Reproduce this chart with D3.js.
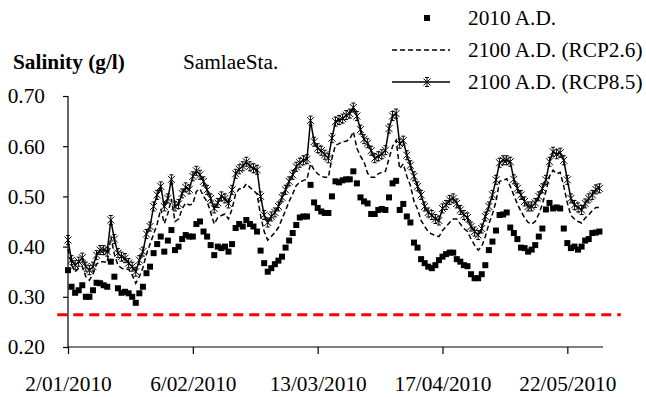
<!DOCTYPE html>
<meta charset="utf-8">
<style>
  body { margin: 0; background: #fff; }
  svg text { font-family: "Times New Roman", "Liberation Serif", Tinos, Times, serif; fill: #000; }
</style>
<body></body>
<script src="https://cdn.jsdelivr.net/npm/d3@7"></script>
<script>
  const width = 646
  const height = 397
  const margin = { top: 96, right: 43, bottom: 50, left: 68 }

  // daily values, 2 Jan 2010 onwards
  const startDate = new Date(2010, 0, 2)
  const endDate = new Date(2010, 5, 1)

  const base2010 = [
    .353, .320, .308, .313, .323, .300, .300, .313, .328, .327,
    .323, .320, .370, .340, .317, .308, .310, .307, .300, .288,
    .307, .320, .347, .360, .387, .405, .420, .390, .412, .433,
    .393, .400, .415, .423, .420, .420, .445, .450, .430, .420,
    .403, .383, .400, .397, .400, .390, .405, .437, .445, .440,
    .453, .445, .440, .430, .392, .367, .350, .357, .365, .372,
    .380, .398, .412, .427, .443, .458, .460, .460, .523, .488,
    .477, .470, .467, .467, .500, .530, .528, .532, .534, .534,
    .550, .526, .498, .490, .486, .465, .465, .473, .475, .473,
    .498, .526, .531, .473, .485, .460, .448, .408, .398, .375,
    .367, .360, .357, .363, .373, .380, .385, .388, .388, .375,
    .370, .363, .361, .345, .337, .337, .345, .363, .393, .410,
    .432, .463, .464, .468, .438, .427, .415, .398, .397, .390,
    .394, .403, .420, .436, .474, .487, .476, .478, .476, .436,
    .407, .397, .400, .394, .400, .412, .415, .427, .428, .430
  ]

  const rcp26 = [
    .395, .363, .350, .357, .361, .340, .333, .345, .365, .370,
    .370, .368, .420, .385, .363, .357, .355, .355, .343, .327,
    .340, .358, .385, .405, .425, .445, .475, .446, .466, .495,
    .450, .455, .475, .487, .483, .485, .510, .515, .500, .490,
    .468, .445, .458, .462, .465, .455, .475, .505, .515, .515,
    .525, .518, .512, .505, .462, .430, .413, .420, .428, .438,
    .455, .472, .490, .505, .522, .528, .532, .534, .565, .553,
    .545, .540, .538, .538, .576, .602, .605, .609, .610, .614,
    .629, .596, .580, .569, .546, .538, .538, .545, .548, .550,
    .575, .600, .612, .555, .565, .540, .522, .490, .475, .452,
    .440, .430, .425, .422, .420, .432, .440, .448, .455, .455,
    .445, .436, .430, .415, .403, .393, .400, .420, .445, .465,
    .490, .530, .532, .535, .520, .502, .485, .470, .458, .448,
    .445, .450, .465, .485, .510, .540, .552, .545, .548, .520,
    .487, .462, .455, .450, .447, .457, .463, .472, .478, .478
  ]

  const rcp85 = [
    .413, .373, .363, .370, .378, .360, .353, .360, .383, .393,
    .393, .390, .453, .415, .387, .380, .377, .367, .360, .350,
    .373, .390, .425, .440, .480, .503, .520, .480, .496, .534,
    .480, .485, .506, .518, .514, .540, .551, .543, .530, .513,
    .496, .476, .487, .500, .496, .486, .513, .545, .554, .560,
    .569, .560, .556, .553, .500, .463, .448, .460, .468, .480,
    .498, .513, .530, .543, .559, .567, .572, .574, .651, .609,
    .596, .591, .583, .576, .616, .649, .652, .655, .662, .665,
    .677, .660, .633, .614, .606, .591, .576, .580, .584, .592,
    .635, .660, .665, .605, .611, .582, .562, .540, .520, .503,
    .480, .468, .463, .455, .452, .476, .483, .493, .496, .486,
    .473, .463, .458, .440, .430, .423, .436, .460, .480, .503,
    .533, .567, .572, .572, .569, .534, .516, .503, .490, .480,
    .480, .487, .500, .516, .533, .569, .589, .584, .587, .572,
    .533, .496, .483, .478, .473, .486, .496, .503, .514, .516
  ]

  const yTicks = [0.2, 0.3, 0.4, 0.5, 0.6, 0.7]
  const xTickDays = [0, 35, 70, 105, 140]
  const threshold = 0.264
  const thresholdSpan = [-3, 155.5] // days, the red line runs past the axes

  const seriesNames = ["2010 A.D.", "2100 A.D. (RCP2.6)", "2100 A.D. (RCP8.5)"]

  const day = i => d3.timeDay.offset(startDate, i)

  const x = d3.scaleTime()
    .domain([startDate, endDate])
    .range([margin.left, width - margin.right])

  const y = d3.scaleLinear()
    .domain([0.2, 0.7])
    .range([height - margin.bottom, margin.top])

  const svg = d3.select("body").append("svg")
    .attr("width", width)
    .attr("height", height)

  const starPath = "M-3.5,-3.5L3.5,3.5M-3.5,3.5L3.5,-3.5M0,-4.5L0,4.5M-2,-4.5L2,-4.5M-2,4.5L2,4.5"

  // threshold
  svg.append("line")
    .attr("x1", x(day(thresholdSpan[0])))
    .attr("x2", x(day(thresholdSpan[1])))
    .attr("y1", y(threshold))
    .attr("y2", y(threshold))
    .attr("stroke", "#ff0000")
    .attr("stroke-width", 3)
    .attr("stroke-dasharray", "10,6")

  // axes
  const yAxis = d3.axisLeft(y)
    .tickValues(yTicks)
    .tickFormat(d3.format(".2f"))
    .tickSize(5)
    .tickPadding(18)

  const xAxis = d3.axisBottom(x)
    .tickValues(xTickDays.map(day))
    .tickFormat(d3.timeFormat("%-d/%m/%Y"))
    .tickSize(7)
    .tickPadding(22)

  svg.append("g")
    .attr("transform", `translate(${margin.left},0)`)
    .call(yAxis)
    .call(g => g.select(".domain").attr("d", `M0,${y(0.7)}V${y(0.2)}`))

  svg.append("g")
    .attr("transform", `translate(0,${height - margin.bottom})`)
    .call(xAxis)
    .call(g => g.select(".domain").attr("d", `M${margin.left},0H${width - margin.right}`))

  svg.selectAll("g").attr("font-family", null)
  svg.selectAll(".tick text")
    .attr("font-size", 21.3)
  svg.selectAll(".domain, .tick line")
    .attr("stroke", "#000")
    .attr("stroke-width", 1.2)

  const line = d3.line()
    .x((d, i) => x(day(i)))
    .y(d => y(d))

  // 2010 squares
  svg.append("g")
    .selectAll("rect")
    .data(base2010)
    .join("rect")
    .attr("x", (d, i) => x(day(i)) - 3)
    .attr("y", d => y(d) - 3)
    .attr("width", 6)
    .attr("height", 6)
    .attr("fill", "#000")

  // RCP2.6 dashed
  svg.append("path")
    .datum(rcp26)
    .attr("d", line)
    .attr("fill", "none")
    .attr("stroke", "#000")
    .attr("stroke-width", 1.5)
    .attr("stroke-dasharray", "5,3")

  // RCP8.5 solid with stars
  svg.append("path")
    .datum(rcp85)
    .attr("d", line)
    .attr("fill", "none")
    .attr("stroke", "#000")
    .attr("stroke-width", 1.5)

  svg.append("g")
    .selectAll("path")
    .data(rcp85)
    .join("path")
    .attr("transform", (d, i) => `translate(${x(day(i))},${y(d)})`)
    .attr("d", starPath)
    .attr("fill", "none")
    .attr("stroke", "#000")
    .attr("stroke-width", 1)

  // titles
  svg.append("text")
    .attr("x", 13)
    .attr("y", 69)
    .attr("font-size", 21.3)
    .attr("font-weight", "bold")
    .text("Salinity (g/l)")

  svg.append("text")
    .attr("x", 183)
    .attr("y", 69)
    .attr("font-size", 21.3)
    .text("SamlaeSta.")

  // legend
  const legend = svg.append("g")
  const rowY = [18, 50, 82]
  seriesNames.forEach((name, i) => {
    legend.append("text")
      .attr("x", 468)
      .attr("y", rowY[i] + 7)
      .attr("font-size", 21.3)
      .text(name)
  })
  legend.append("rect")
    .attr("x", 424).attr("y", rowY[0] - 3)
    .attr("width", 6).attr("height", 6)
    .attr("fill", "#000")
  legend.append("line")
    .attr("x1", 392).attr("x2", 450)
    .attr("y1", rowY[1]).attr("y2", rowY[1])
    .attr("stroke", "#000").attr("stroke-width", 1.5)
    .attr("stroke-dasharray", "5,3")
  legend.append("line")
    .attr("x1", 392).attr("x2", 450)
    .attr("y1", rowY[2]).attr("y2", rowY[2])
    .attr("stroke", "#000").attr("stroke-width", 1.5)
  legend.append("path")
    .attr("transform", `translate(427,${rowY[2]})`)
    .attr("d", starPath)
    .attr("fill", "none")
    .attr("stroke", "#000")
</script>
